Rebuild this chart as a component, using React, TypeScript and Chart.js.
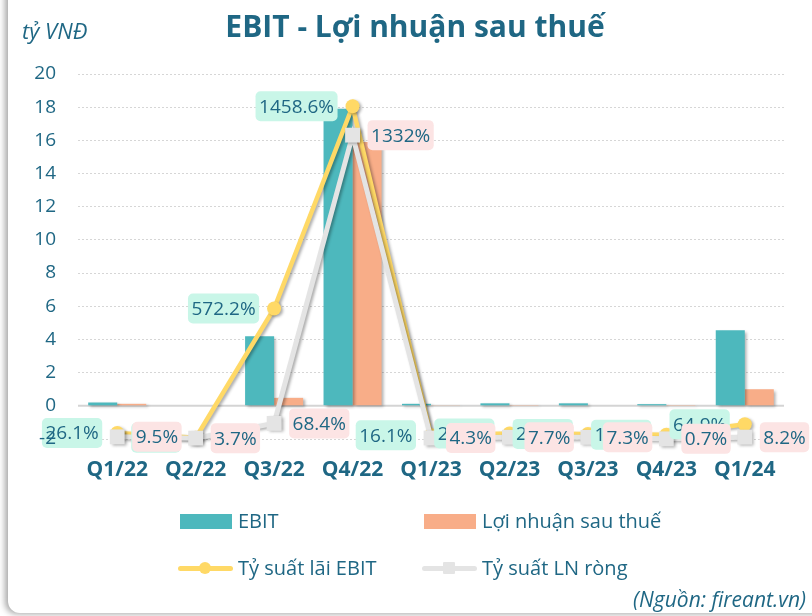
import React, { useEffect, useRef } from 'react';
import { Chart, registerables } from 'chart.js';

Chart.register(...registerables);

// ---------------- data ----------------
const categories = ['Q1/22', 'Q2/22', 'Q3/22', 'Q4/22', 'Q1/23', 'Q2/23', 'Q3/23', 'Q4/23', 'Q1/24'];
const ebit = [0.2, 0.0, 4.2, 17.9, 0.12, 0.15, 0.15, 0.1, 4.55];
const netProfit = [0.12, 0.0, 0.48, 15.9, 0.02, 0.05, 0.03, 0.01, 1.0];
const ebitMargin = [26.1, 5.2, 572.2, 1458.6, 16.1, 24.5, 22.4, 18.6, 64.9];
const netMargin = [9.5, 3.7, 68.4, 1332, 4.3, 7.7, 7.3, 0.7, 8.2];
const seriesNames = ['EBIT', 'Lợi nhuận sau thuế', 'Tỷ suất lãi EBIT', 'Tỷ suất LN ròng'];
const titleText = 'EBIT - Lợi nhuận sau thuế';
const unitText = 'tỷ VNĐ';
const sourceText = '(Nguồn: fireant.vn)';
const yMin = -2;
const yMax = 20;
const yStep = 2;
const y1Min = 0;
const y1Max = 1600;

// ---------------- styles ----------------
const TEAL = '#4DB8BD';
const SALMON = '#F8AD88';
const YELLOW = '#FFD966';
const GRAY = '#E4E4E4';
const TEXT = '#1F6784';
const FONT = '"Open Sans", "Noto Sans", sans-serif';

const shadowPlugin = {
  id: 'dsShadow',
  beforeDatasetDraw(chart: any) {
    const c = chart.ctx;
    c.save();
    c.shadowColor = 'rgba(0,0,0,0.32)';
    c.shadowBlur = 3;
    c.shadowOffsetX = 2;
    c.shadowOffsetY = 1.5;
  },
  afterDatasetDraw(chart: any) {
    chart.ctx.restore();
  },
};

const zeroLinePlugin = {
  id: 'zeroLine',
  beforeDatasetsDraw(chart: any) {
    const { ctx, chartArea, scales } = chart;
    const y = scales.y.getPixelForValue(0);
    ctx.save();
    ctx.strokeStyle = '#D4D4D4';
    ctx.lineWidth = 2;
    ctx.beginPath();
    ctx.moveTo(chartArea.left, y);
    ctx.lineTo(chartArea.right, y);
    ctx.stroke();
    ctx.restore();
  },
};

const fmtPct = (v: number) => `${v}%`;

const pctLabelPlugin = {
  id: 'pctLabels',
  afterDatasetsDraw(chart: any) {
    const ctx = chart.ctx;
    const specs = [
      { idx: 2, values: ebitMargin, bg: '#C9F6E8', side: 'left' },
      { idx: 3, values: netMargin, bg: '#FCE4E4', side: 'right' },
    ];
    ctx.save();
    ctx.font = `19px ${FONT}`;
    ctx.textBaseline = 'middle';
    ctx.textAlign = 'center';
    specs.forEach((s) => {
      const meta = chart.getDatasetMeta(s.idx);
      meta.data.forEach((pt: any, i: number) => {
        const t = fmtPct(s.values[i]);
        const w = ctx.measureText(t).width + 7;
        const h = 30;
        const x = s.side === 'left' ? pt.x - 15 - w : pt.x + 15;
        const y = pt.y - h / 2;
        ctx.fillStyle = s.bg;
        ctx.beginPath();
        ctx.roundRect(x, y, w, h, 5);
        ctx.fill();
        ctx.fillStyle = TEXT;
        ctx.fillText(t, x + w / 2, pt.y + 1);
      });
    });
    ctx.restore();
  },
};

function LegendItem(props: { x: number; y: number; kind: string; color: string; label: string }) {
  const { x, y, kind, color, label } = props;
  return (
    <div
      style={{
        position: 'absolute',
        left: x,
        top: y - 14,
        height: 28,
        display: 'flex',
        alignItems: 'center',
        whiteSpace: 'nowrap',
      }}
    >
      <div style={{ position: 'relative', width: 55, height: 28, marginRight: 5 }}>
        {kind === 'bar' ? (
          <div style={{ position: 'absolute', left: 2, top: 7, width: 52, height: 15, background: color }} />
        ) : (
          <>
            <div
              style={{ position: 'absolute', left: 0, top: 11.5, width: 55, height: 5, borderRadius: 3, background: color }}
            />
            <div
              style={{
                position: 'absolute',
                left: 21,
                top: 8,
                width: 12,
                height: 12,
                borderRadius: kind === 'circle' ? 6 : 1,
                background: color,
              }}
            />
          </>
        )}
      </div>
      <span style={{ fontSize: 20, lineHeight: '28px' }}>{label}</span>
    </div>
  );
}

export default function App() {
  const ref = useRef<HTMLCanvasElement>(null);

  useEffect(() => {
    const chart = new Chart(ref.current as HTMLCanvasElement, {
      data: {
        labels: categories,
        datasets: [
          {
            type: 'bar',
            label: seriesNames[0],
            data: ebit,
            backgroundColor: TEAL,
            yAxisID: 'y',
            order: 2,
            categoryPercentage: 0.74,
            barPercentage: 1,
          },
          {
            type: 'bar',
            label: seriesNames[1],
            data: netProfit,
            backgroundColor: SALMON,
            yAxisID: 'y',
            order: 3,
            categoryPercentage: 0.74,
            barPercentage: 1,
          },
          {
            type: 'line',
            label: seriesNames[2],
            data: ebitMargin,
            borderColor: YELLOW,
            backgroundColor: YELLOW,
            borderWidth: 4.5,
            pointStyle: 'circle',
            pointRadius: 7,
            pointBorderWidth: 0,
            pointBackgroundColor: YELLOW,
            yAxisID: 'y1',
            order: 1,
            clip: false,
            tension: 0,
          } as any,
          {
            type: 'line',
            label: seriesNames[3],
            data: netMargin,
            borderColor: GRAY,
            backgroundColor: GRAY,
            borderWidth: 5,
            pointStyle: 'rect',
            pointRadius: 10.5,
            pointBorderWidth: 0,
            pointBackgroundColor: GRAY,
            yAxisID: 'y1',
            order: 0,
            clip: false,
            tension: 0,
          } as any,
        ],
      },
      options: {
        animation: false,
        responsive: false,
        events: [],
        layout: { padding: { top: 74, right: 28, left: 0, bottom: 0 } },
        plugins: {
          legend: { display: false },
          title: { display: false },
          tooltip: { enabled: false },
        },
        scales: {
          x: {
            grid: { display: false, drawTicks: false },
            border: { display: false },
            ticks: {
              color: TEXT,
              font: { family: FONT, size: 21, weight: 'bold' },
              padding: 18,
              maxRotation: 0,
              autoSkip: false,
            },
            afterFit: (s: any) => {
              s.height = 177;
            },
          },
          y: {
            position: 'left',
            min: yMin,
            max: yMax,
            ticks: {
              stepSize: yStep,
              color: TEXT,
              font: { family: FONT, size: 19 },
              padding: 22,
              z: 1,
            },
            grid: {
              drawTicks: false,
              lineWidth: 1,
              color: (c: any) => (c.tick && c.tick.value === 0 ? 'rgba(0,0,0,0)' : '#D6D6D6'),
            },
            border: { display: false, dash: [2, 2] },
            afterFit: (s: any) => {
              s.width = 78;
            },
          },
          y1: {
            position: 'right',
            display: false,
            min: y1Min,
            max: y1Max,
          },
        },
      } as any,
      plugins: [shadowPlugin, zeroLinePlugin, pctLabelPlugin],
    } as any);
    return () => chart.destroy();
  }, []);

  return (
    <div
      style={{
        position: 'fixed',
        left: 0,
        top: 0,
        width: 812,
        height: 616,
        background: '#fff',
        overflow: 'hidden',
        fontFamily: FONT,
        color: TEXT,
      }}
    >
      <div
        style={{
          position: 'absolute',
          left: 8,
          top: -40,
          width: 860,
          height: 653,
          borderRadius: 12,
          background: '#fff',
          boxShadow: '-3px 1px 6px rgba(0,0,0,0.35)',
        }}
      />
      <canvas
        ref={ref}
        width={812}
        height={616}
        style={{ position: 'absolute', left: 0, top: 0, width: 812, height: 616 }}
      />
      <div
        style={{
          position: 'absolute',
          left: 415,
          top: 3,
          transform: 'translateX(-50%)',
          fontSize: 30,
          fontWeight: 700,
          lineHeight: '46px',
          whiteSpace: 'nowrap',
        }}
      >
        {titleText}
      </div>
      <div
        style={{
          position: 'absolute',
          left: 22,
          top: 16,
          fontSize: 22,
          fontStyle: 'italic',
          lineHeight: '28px',
          whiteSpace: 'nowrap',
        }}
      >
        {unitText}
      </div>
      <LegendItem x={178} y={521} kind="bar" color={TEAL} label={seriesNames[0]} />
      <LegendItem x={422} y={521} kind="bar" color={SALMON} label={seriesNames[1]} />
      <LegendItem x={178} y={568} kind="circle" color={YELLOW} label={seriesNames[2]} />
      <LegendItem x={422} y={568} kind="square" color={GRAY} label={seriesNames[3]} />
      <div
        style={{
          position: 'absolute',
          right: 6,
          top: 585,
          fontSize: 21,
          fontStyle: 'italic',
          lineHeight: '28px',
          whiteSpace: 'nowrap',
        }}
      >
        {sourceText}
      </div>
    </div>
  );
}
